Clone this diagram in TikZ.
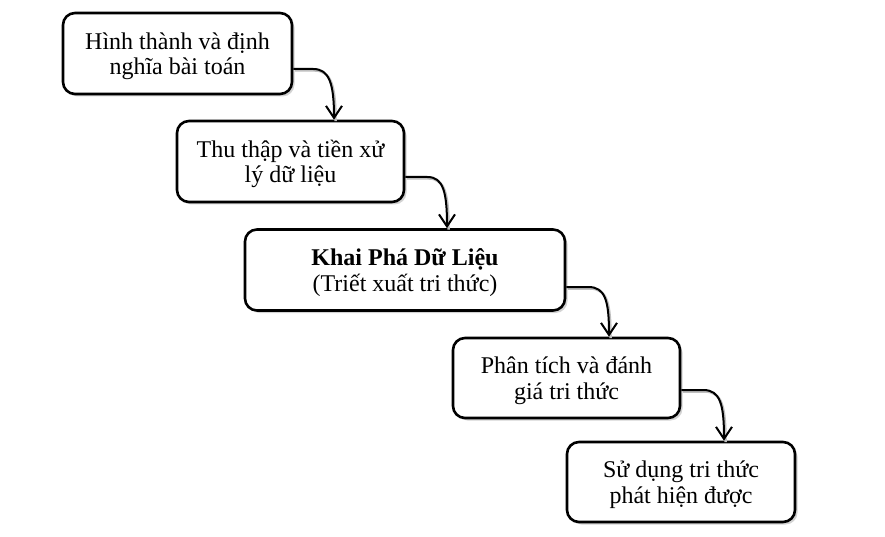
\documentclass[tikz,border=0pt]{standalone}
\usepackage{fontspec}
\setmainfont{Liberation Serif}
\usetikzlibrary{arrows.meta,shadows,calc}
\newcommand\myTopStrut{\rule{0pt}{24pt}}
\newcommand\myBotStrut{\rule[-7pt]{0pt}{7pt}}
\begin{document}
\begin{tikzpicture}[x=1pt,y=-1pt,
  stage/.style={draw=black, line width=2.6pt, rounded corners=12pt, fill=white,
    align=center, inner sep=0pt, minimum height=81pt,
    font=\fontsize{24}{25.5}\selectfont,
    drop shadow={opacity=0.35, shadow xshift=2.5pt, shadow yshift=-2.5pt}},
  flow/.style={line width=2pt, -{Straight Barb[length=12pt,width=16pt,line width=2pt]},
    preaction={draw=black!25, line width=2.5pt, transform canvas={xshift=1.5pt,yshift=-1.5pt}, -}}]
\useasboundingbox (0,0) rectangle (885,537);
\node[stage, minimum width=229pt] (b1) at (177.5,53.5) {\myTopStrut Hình thành và định\\nghĩa bài toán\myBotStrut};
\node[stage, minimum width=227pt] (b2) at (290.5,161.5) {\myTopStrut Thu thập và tiền xử\\lý dữ liệu\myBotStrut};
\node[stage, minimum width=320pt] (b3) at (405,270) {\myTopStrut\textbf{Khai Phá Dữ Liệu}\\(Triết xuất tri thức)\myBotStrut};
\node[stage, minimum width=227pt, minimum height=80pt] (b4) at (566.5,378) {\myTopStrut Phân tích và đánh\\giá tri thức\myBotStrut};
\node[stage, minimum width=228pt, minimum height=80pt] (b5) at (681,482) {\myTopStrut Sử dụng tri thức\\phát hiện được\myBotStrut};
% connectors
\coordinate (s1) at ($(b1.east)+(0,15.5)$);
\coordinate (t1) at (b2.north -| 334,0);
\draw[flow] (s1) -- ++(20,0) .. controls ($(s1)+(36,0)$) and ($(t1)+(0,-36)$) .. (t1);
\coordinate (s2) at ($(b2.east)+(0,15.5)$);
\coordinate (t2) at (b3.north -| 447,0);
\draw[flow] (s2) -- ++(22,0) .. controls ($(s2)+(38,0)$) and ($(t2)+(0,-36)$) .. (t2);
\coordinate (s3) at ($(b3.east)+(0,17)$);
\coordinate (t3) at (b4.north -| 609,0);
\draw[flow] (s3) -- ++(22,0) .. controls ($(s3)+(39,0)$) and ($(t3)+(0,-36)$) .. (t3);
\coordinate (s4) at ($(b4.east)+(0,12)$);
\coordinate (t4) at (b5.north -| 724,0);
\draw[flow] (s4) -- ++(22,0) .. controls ($(s4)+(39,0)$) and ($(t4)+(0,-36)$) .. (t4);
\end{tikzpicture}
\end{document}
